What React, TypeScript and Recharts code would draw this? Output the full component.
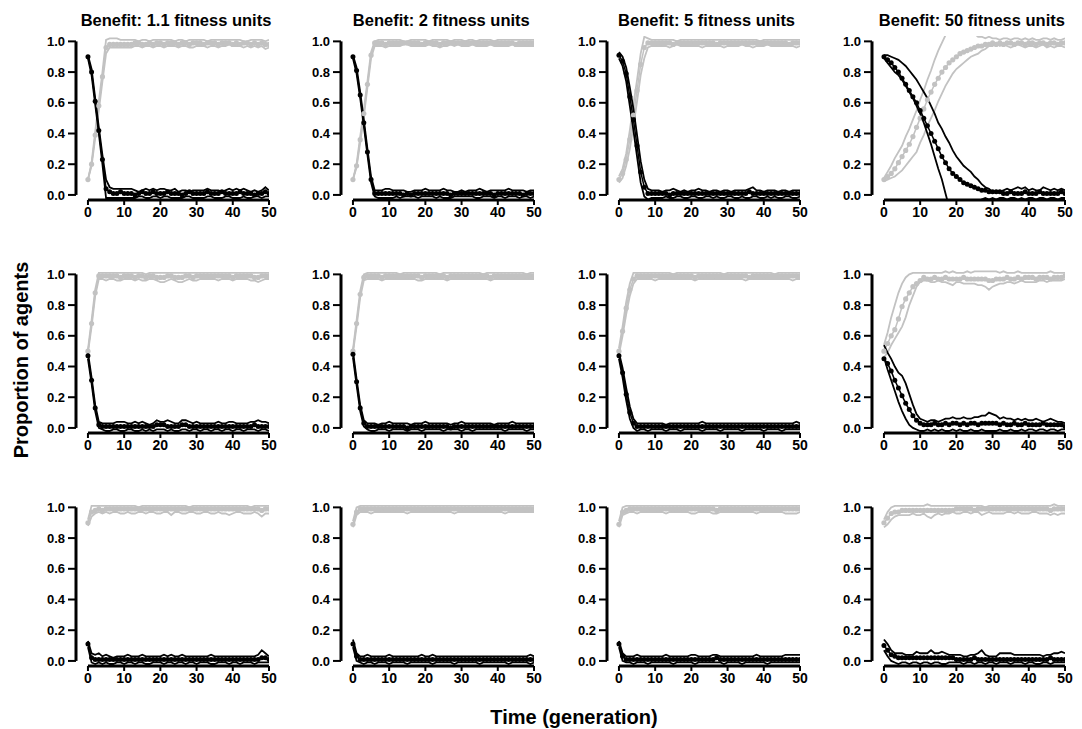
import { LineChart, Line, XAxis, YAxis, ReferenceLine } from 'recharts'

// proportions are in percent (0-100); tick labels show them as 0.0-1.0
const generations = [0, 1, 2, 3, 4, 5, 6, 7, 8, 9, 10, 11, 12, 13, 14, 15, 16, 17, 18, 19, 20, 21, 22, 23, 24, 25, 26, 27, 28, 29, 30, 31, 32, 33, 34, 35, 36, 37, 38, 39, 40, 41, 42, 43, 44, 45, 46, 47, 48, 49, 50]
const xTicks = [0, 10, 20, 30, 40, 50]
const yTicks = [0, 20, 40, 60, 80, 100]
const titles = ['Benefit: 1.1 fitness units', 'Benefit: 2 fitness units', 'Benefit: 5 fitness units', 'Benefit: 50 fitness units']

// row 1: start at 0.9
const r1c1BlackMean = [90, 80, 61, 42, 23, 4, 2, 1, 1, 2, 1, 1, 1, 0, 1, 2, 1, 1, 2, 1, 1, 1, 2, 1, 1, 1, 0, 1, 2, 1, 1, 1, 1, 2, 1, 1, 1, 2, 1, 1, 1, 1, 2, 1, 1, 1, 0, 1, 1, 2, 1]
const r1c1BlackHigh = [91, 82, 63, 44, 26, 10, 5, 4, 4, 4, 4, 4, 4, 3, 2, 3, 4, 3, 4, 3, 4, 4, 3, 3, 4, 2, 3, 3, 2, 3, 3, 3, 3, 4, 3, 3, 3, 2, 3, 4, 3, 4, 3, 4, 3, 2, 3, 2, 3, 5, 3]
const r1c1BlackLow = [89, 78, 59, 40, 20, -2, -2, -2, -2, -2, -2, -2, -2, -2, -1, -1, -2, -2, -1, -1, -2, -1, -1, -2, -2, -2, -2, -1, -1, -2, -2, -2, -2, -1, -1, -2, -2, -2, -1, -1, -2, -2, -2, -1, -2, -2, -1, -1, -2, -1, -1]
const r1c1GreyMean = [10, 20, 39, 58, 77, 96, 98, 98, 98, 98, 98, 98, 98, 99, 99, 98, 98, 99, 98, 99, 99, 98, 99, 99, 99, 98, 99, 99, 98, 99, 99, 99, 98, 99, 99, 99, 98, 99, 99, 99, 98, 99, 98, 99, 99, 98, 99, 98, 99, 98, 98]
const r1c1GreyHigh = [10, 21, 41, 61, 80, 101, 102, 102, 102, 101, 101, 101, 101, 101, 100, 101, 101, 100, 101, 101, 101, 101, 101, 101, 100, 101, 101, 100, 101, 101, 101, 101, 101, 100, 101, 101, 101, 101, 101, 101, 101, 101, 101, 100, 100, 101, 101, 101, 101, 100, 101]
const r1c1GreyLow = [10, 19, 37, 55, 74, 92, 96, 96, 96, 96, 96, 96, 96, 97, 97, 96, 97, 97, 96, 97, 97, 96, 97, 97, 97, 96, 97, 97, 96, 96, 97, 97, 97, 96, 97, 97, 96, 97, 97, 98, 97, 97, 97, 96, 97, 96, 97, 96, 97, 95, 96]

const r1c2BlackMean = [90, 81, 65, 47, 28, 10, 1, 1, 1, 1, 1, 1, 1, 1, 0, 1, 0, 1, 1, 1, 1, 1, 1, 1, 1, 1, 1, 0, 1, 1, 1, 1, 1, 1, 1, 1, 1, 1, 1, 0, 1, 1, 1, 1, 1, 1, 1, 0, 1, 1, 1]
const r1c2BlackHigh = [91, 83, 67, 49, 30, 12, 3, 3, 3, 4, 4, 3, 3, 3, 3, 2, 2, 3, 3, 3, 4, 3, 3, 3, 3, 4, 3, 3, 2, 2, 3, 2, 3, 3, 3, 4, 3, 2, 3, 3, 3, 3, 3, 4, 3, 3, 3, 3, 2, 3, 3]
const r1c2BlackLow = [89, 79, 63, 45, 26, 8, -1, -2, -2, -2, -2, -2, -1, -2, -1, -1, -1, -1, -2, -1, -1, -1, -1, -2, -1, -2, -2, -2, -1, -1, -1, -1, -1, -1, -2, -2, -1, -1, -1, -2, -1, -1, -2, -1, -1, -1, -2, -1, -1, -2, -1]
const r1c2GreyMean = [10, 19, 36, 53, 72, 91, 99, 99, 99, 98, 99, 99, 99, 99, 99, 99, 99, 99, 99, 98, 99, 99, 99, 99, 98, 99, 99, 99, 99, 99, 99, 99, 99, 99, 99, 99, 99, 99, 99, 99, 99, 99, 99, 99, 99, 98, 99, 99, 99, 99, 99]
const r1c2GreyHigh = [10, 20, 38, 55, 74, 93, 100, 101, 101, 101, 101, 101, 101, 101, 100, 100, 101, 101, 101, 101, 101, 100, 101, 101, 101, 101, 101, 100, 101, 101, 101, 100, 101, 101, 100, 101, 101, 101, 101, 100, 101, 101, 101, 101, 101, 101, 101, 101, 101, 101, 101]
const r1c2GreyLow = [10, 18, 34, 51, 70, 89, 97, 97, 97, 96, 97, 97, 97, 97, 98, 98, 97, 97, 97, 97, 97, 98, 97, 97, 96, 97, 97, 98, 97, 98, 97, 97, 97, 98, 97, 97, 97, 97, 98, 97, 97, 97, 97, 97, 98, 97, 97, 97, 97, 97, 97]

const r1c3BlackMean = [91, 87, 79, 64, 49, 32, 15, 5, 1, 1, 1, 1, 1, 1, 0, 1, 1, 1, 1, 1, 1, 1, 1, 1, 1, 1, 1, 1, 1, 1, 1, 1, 1, 1, 1, 1, 2, 1, 1, 1, 1, 1, 1, 1, 1, 1, 1, 1, 1, 1, 1]
const r1c3BlackHigh = [93, 90, 83, 70, 56, 39, 22, 10, 4, 3, 3, 3, 2, 3, 3, 4, 3, 2, 3, 2, 3, 3, 4, 3, 3, 2, 3, 3, 2, 3, 3, 2, 3, 3, 3, 3, 4, 5, 3, 3, 2, 3, 3, 3, 2, 3, 3, 2, 3, 3, 3]
const r1c3BlackLow = [89, 84, 74, 58, 42, 25, 8, -1, -3, -2, -2, -2, -2, -1, -2, -2, -1, -1, -2, -2, -1, -1, -2, -2, -1, -1, -2, -1, -2, -2, -1, -1, -2, -2, -1, -2, -2, -1, -1, -2, -2, -1, -2, -1, -2, -2, -1, -1, -2, -2, -1]
const r1c3GreyMean = [10, 14, 23, 36, 52, 68, 85, 96, 99, 99, 99, 99, 99, 99, 99, 98, 99, 99, 99, 99, 99, 99, 99, 99, 99, 99, 99, 98, 99, 99, 99, 99, 99, 99, 99, 99, 99, 99, 99, 99, 99, 99, 99, 99, 99, 99, 99, 98, 99, 99, 99]
const r1c3GreyHigh = [12, 17, 27, 42, 59, 75, 92, 103, 102, 101, 101, 101, 101, 101, 101, 101, 100, 101, 101, 101, 101, 101, 101, 101, 101, 101, 101, 101, 101, 101, 101, 101, 101, 101, 101, 101, 101, 101, 101, 100, 101, 101, 101, 101, 101, 101, 101, 101, 101, 101, 101]
const r1c3GreyLow = [8, 11, 19, 30, 45, 61, 78, 89, 96, 97, 97, 97, 97, 97, 96, 97, 98, 97, 97, 97, 97, 97, 97, 96, 97, 97, 97, 97, 97, 96, 97, 97, 97, 97, 98, 97, 97, 96, 97, 97, 97, 98, 97, 97, 97, 97, 97, 97, 97, 96, 97]

const r1c4BlackMean = [90, 88, 86, 83, 80, 76, 72, 68, 64, 60, 55, 50, 45, 40, 35, 30, 25, 21, 17, 14, 12, 10, 8, 7, 6, 5, 4, 3, 3, 2, 2, 2, 2, 1, 1, 2, 1, 1, 1, 2, 1, 1, 1, 2, 1, 1, 1, 1, 1, 2, 1]
const r1c4BlackHigh = [91, 91, 90, 89, 88, 86, 84, 81, 78, 75, 71, 67, 63, 58, 53, 47, 43, 38, 34, 29, 25, 22, 19, 17, 15, 12, 10, 7, 5, 4, 2, 2, 2, 3, 4, 3, 4, 5, 4, 5, 3, 4, 3, 3, 5, 4, 3, 4, 3, 4, 3]
const r1c4BlackLow = [89, 86, 83, 80, 78, 75, 71, 67, 63, 58, 53, 47, 40, 33, 25, 17, 10, 1, -8, -14, -18, -20, -20, -18, -15, -12, -8, -3, -2, -3, -2, -3, -2, -2, -3, -2, -2, -3, -2, -3, -2, -2, -3, -2, -2, -3, -2, -2, -3, -2, -2]
const r1c4GreyMean = [10, 12, 14, 17, 21, 25, 29, 33, 38, 44, 50, 56, 62, 67, 72, 76, 80, 83, 86, 88, 90, 92, 93, 94, 95, 96, 97, 97, 98, 98, 99, 98, 99, 98, 99, 99, 98, 99, 99, 98, 99, 99, 98, 99, 99, 98, 99, 99, 98, 99, 99]
const r1c4GreyHigh = [11, 15, 19, 24, 28, 32, 38, 43, 49, 55, 62, 68, 75, 81, 88, 94, 99, 104, 108, 111, 113, 113, 112, 110, 108, 105, 103, 103, 102, 103, 102, 102, 101, 102, 102, 101, 102, 102, 101, 102, 101, 102, 101, 101, 102, 102, 101, 102, 101, 101, 102]
const r1c4GreyLow = [9, 10, 11, 12, 14, 16, 19, 22, 25, 28, 34, 39, 45, 50, 55, 61, 66, 71, 75, 79, 82, 84, 86, 88, 90, 91, 92, 94, 95, 97, 97, 99, 97, 98, 97, 96, 97, 98, 97, 96, 97, 97, 96, 97, 98, 96, 97, 96, 97, 97, 96]

// row 2: start at 0.5
const r2c1BlackMean = [47, 31, 13, 2, 1, 1, 1, 1, 1, 1, 1, 1, 1, 1, 1, 1, 1, 1, 1, 2, 2, 2, 1, 1, 1, 1, 2, 2, 1, 1, 1, 1, 1, 1, 1, 1, 1, 1, 1, 1, 1, 1, 1, 1, 1, 1, 2, 1, 1, 1, 1]
const r2c1BlackHigh = [49, 33, 15, 4, 3, 3, 3, 3, 4, 4, 4, 3, 3, 4, 3, 4, 3, 2, 3, 5, 4, 4, 5, 4, 3, 3, 5, 5, 4, 3, 4, 3, 3, 3, 3, 3, 4, 3, 3, 4, 4, 3, 3, 3, 3, 4, 4, 5, 4, 4, 3]
const r2c1BlackLow = [45, 29, 11, 0, -1, -2, -2, -1, -1, -2, -2, -1, -1, -2, -2, -1, -2, -1, -2, -1, -1, -1, -2, -1, -2, -2, -1, -1, -2, -1, -1, -2, -1, -1, -2, -1, -1, -2, -1, -1, -2, -1, -1, -2, -1, -1, -1, -2, -1, -1, -2]
const r2c1GreyMean = [50, 68, 88, 99, 99, 99, 99, 99, 99, 98, 99, 99, 99, 98, 99, 99, 98, 99, 99, 98, 98, 98, 99, 99, 98, 98, 98, 99, 99, 98, 99, 99, 99, 99, 99, 99, 99, 99, 99, 99, 98, 99, 99, 99, 99, 99, 98, 98, 99, 99, 99]
const r2c1GreyHigh = [51, 70, 90, 101, 101, 101, 101, 101, 101, 101, 101, 101, 101, 101, 101, 101, 100, 101, 101, 101, 101, 101, 101, 101, 101, 101, 101, 101, 101, 101, 101, 101, 101, 101, 101, 101, 101, 101, 101, 101, 101, 101, 101, 101, 101, 101, 101, 101, 101, 101, 101]
const r2c1GreyLow = [49, 66, 86, 97, 97, 96, 97, 97, 96, 96, 97, 97, 97, 96, 97, 96, 96, 97, 97, 96, 95, 95, 96, 97, 96, 95, 95, 96, 97, 96, 96, 97, 97, 97, 97, 97, 96, 97, 97, 97, 96, 97, 97, 97, 97, 96, 96, 95, 96, 97, 97]

const r2c2BlackMean = [48, 30, 13, 3, 1, 1, 1, 1, 1, 1, 1, 1, 1, 1, 1, 0, 1, 1, 1, 1, 1, 1, 1, 1, 1, 1, 1, 0, 1, 1, 1, 1, 1, 1, 1, 1, 1, 1, 1, 1, 1, 1, 1, 1, 1, 1, 1, 1, 1, 1, 1]
const r2c2BlackHigh = [50, 32, 15, 5, 3, 3, 3, 2, 3, 3, 4, 3, 3, 3, 3, 3, 2, 3, 3, 3, 4, 3, 3, 3, 3, 3, 3, 2, 3, 3, 4, 3, 3, 3, 3, 3, 3, 3, 3, 2, 3, 3, 3, 3, 4, 3, 3, 3, 3, 3, 3]
const r2c2BlackLow = [46, 28, 11, 1, -1, -2, -2, -1, -1, -1, -2, -1, -1, -1, -1, -2, -1, -1, -1, -2, -1, -1, -1, -1, -1, -2, -1, -1, -1, -1, -2, -1, -1, -2, -1, -1, -1, -1, -1, -1, -1, -1, -2, -1, -1, -1, -1, -1, -2, -1, -1]
const r2c2GreyMean = [50, 68, 87, 98, 99, 99, 99, 99, 98, 99, 99, 99, 99, 99, 99, 99, 99, 99, 99, 98, 99, 99, 99, 99, 99, 99, 98, 99, 99, 99, 99, 99, 99, 99, 99, 99, 99, 99, 98, 99, 99, 99, 99, 99, 99, 99, 99, 99, 99, 99, 99]
const r2c2GreyHigh = [51, 70, 89, 100, 101, 101, 101, 101, 101, 101, 101, 101, 101, 100, 101, 101, 101, 101, 101, 101, 101, 101, 101, 101, 100, 101, 101, 101, 101, 101, 101, 101, 101, 101, 101, 101, 100, 101, 101, 101, 101, 101, 101, 101, 101, 101, 101, 101, 100, 101, 101]
const r2c2GreyLow = [49, 66, 85, 96, 97, 97, 97, 97, 96, 97, 97, 97, 97, 97, 97, 97, 97, 97, 96, 96, 97, 97, 97, 97, 97, 97, 96, 97, 97, 97, 97, 97, 97, 97, 97, 97, 97, 97, 96, 97, 97, 97, 97, 97, 97, 97, 97, 97, 97, 97, 97]

const r2c3BlackMean = [47, 36, 22, 10, 3, 1, 1, 1, 1, 1, 1, 1, 1, 1, 1, 1, 1, 1, 1, 1, 1, 1, 1, 1, 1, 1, 1, 1, 1, 1, 1, 1, 1, 1, 1, 1, 1, 1, 1, 1, 1, 1, 1, 1, 1, 1, 1, 1, 1, 1, 1]
const r2c3BlackHigh = [49, 39, 26, 14, 6, 3, 3, 3, 3, 3, 3, 3, 3, 2, 3, 3, 3, 3, 3, 3, 3, 3, 3, 4, 3, 3, 3, 3, 3, 3, 3, 3, 3, 3, 3, 3, 3, 3, 3, 3, 3, 3, 3, 3, 3, 3, 3, 3, 3, 4, 3]
const r2c3BlackLow = [45, 33, 18, 6, 0, -2, -1, -1, -2, -1, -1, -1, -1, -2, -1, -1, -1, -2, -1, -1, -1, -1, -1, -2, -1, -1, -1, -1, -2, -1, -1, -1, -1, -1, -2, -1, -1, -1, -1, -1, -2, -1, -1, -1, -1, -2, -1, -1, -1, -1, -1]
const r2c3GreyMean = [50, 63, 78, 90, 97, 99, 99, 99, 99, 99, 99, 99, 99, 99, 99, 99, 99, 99, 99, 99, 99, 98, 99, 99, 99, 99, 99, 99, 99, 99, 99, 99, 99, 99, 99, 99, 98, 99, 99, 99, 99, 99, 99, 99, 99, 99, 99, 99, 99, 99, 99]
const r2c3GreyHigh = [52, 66, 82, 94, 101, 101, 101, 101, 101, 101, 101, 101, 101, 101, 101, 100, 101, 101, 101, 101, 101, 101, 101, 101, 101, 101, 101, 101, 101, 100, 101, 101, 101, 101, 101, 101, 101, 101, 101, 101, 101, 101, 101, 100, 101, 101, 101, 101, 101, 101, 101]
const r2c3GreyLow = [48, 60, 74, 86, 94, 97, 97, 97, 97, 97, 96, 97, 97, 97, 97, 97, 97, 97, 97, 97, 97, 96, 97, 97, 97, 97, 97, 97, 97, 97, 97, 97, 97, 97, 97, 96, 97, 97, 97, 97, 97, 97, 97, 97, 97, 97, 97, 97, 96, 97, 97]

const r2c4BlackMean = [45, 42, 37, 31, 26, 21, 16, 12, 8, 5, 3, 2, 2, 2, 3, 2, 2, 3, 2, 3, 3, 2, 3, 2, 3, 3, 2, 3, 3, 3, 3, 3, 2, 3, 2, 2, 3, 2, 2, 3, 2, 2, 2, 2, 3, 2, 2, 2, 2, 2, 1]
const r2c4BlackHigh = [54, 49, 45, 40, 36, 34, 29, 22, 15, 9, 6, 5, 4, 5, 5, 4, 5, 6, 6, 7, 6, 6, 7, 6, 6, 7, 7, 8, 8, 10, 9, 8, 6, 7, 6, 6, 5, 6, 5, 6, 5, 5, 6, 5, 4, 5, 6, 5, 4, 4, 3]
const r2c4BlackLow = [46, 38, 31, 24, 17, 11, 6, 2, 0, -1, -2, -2, -1, -2, -1, -2, -1, -2, -2, -1, -2, -1, -2, -2, -1, -2, -2, -1, -2, -2, -2, -2, -1, -2, -2, -1, -2, -2, -1, -2, -1, -1, -2, -1, -1, -2, -1, -1, -2, -1, -1]
const r2c4GreyMean = [50, 55, 60, 64, 71, 79, 84, 88, 92, 94, 96, 98, 97, 97, 98, 97, 97, 98, 97, 97, 97, 97, 98, 97, 97, 97, 97, 97, 97, 96, 96, 97, 97, 97, 98, 97, 97, 98, 97, 98, 98, 98, 97, 98, 98, 98, 97, 98, 98, 98, 99]
const r2c4GreyHigh = [54, 62, 72, 80, 88, 94, 98, 100, 101, 101, 101, 101, 101, 101, 101, 101, 101, 102, 101, 102, 101, 101, 101, 102, 101, 102, 102, 102, 102, 102, 102, 102, 101, 102, 101, 101, 101, 102, 101, 101, 101, 101, 101, 101, 101, 101, 102, 101, 101, 101, 101]
const r2c4GreyLow = [46, 49, 54, 58, 62, 66, 72, 80, 86, 92, 95, 96, 96, 95, 95, 96, 95, 95, 94, 93, 95, 95, 94, 94, 94, 94, 93, 93, 92, 90, 92, 93, 94, 94, 95, 95, 94, 95, 96, 95, 95, 95, 95, 96, 96, 95, 96, 96, 96, 96, 97]

// row 3: start at 0.1
const r3c1BlackMean = [11, 2, 1, 1, 1, 1, 1, 1, 1, 1, 1, 1, 1, 1, 1, 1, 1, 1, 1, 1, 1, 1, 1, 1, 1, 1, 1, 1, 1, 1, 1, 1, 1, 1, 1, 1, 1, 1, 1, 1, 1, 1, 1, 1, 1, 1, 1, 1, 2, 2, 1]
const r3c1BlackHigh = [13, 5, 4, 5, 3, 4, 3, 2, 3, 3, 3, 4, 3, 3, 3, 4, 3, 3, 3, 3, 3, 4, 3, 4, 3, 3, 4, 3, 3, 3, 3, 3, 3, 3, 4, 3, 3, 3, 3, 3, 3, 3, 3, 3, 3, 3, 3, 4, 7, 5, 3]
const r3c1BlackLow = [9, -1, -2, -1, -2, -1, -2, -2, -1, -1, -2, -1, -1, -2, -1, -1, -2, -2, -1, -1, -1, -2, -1, -1, -2, -1, -1, -2, -1, -1, -2, -1, -1, -1, -2, -2, -1, -1, -1, -2, -1, -1, -2, -1, -1, -1, -2, -1, -1, -1, -1]
const r3c1GreyMean = [90, 97, 98, 99, 98, 99, 99, 99, 99, 99, 99, 99, 99, 99, 99, 99, 99, 99, 99, 99, 99, 99, 99, 99, 99, 99, 99, 99, 99, 99, 99, 99, 99, 99, 99, 99, 99, 99, 99, 99, 99, 99, 99, 99, 99, 99, 99, 99, 98, 99, 99]
const r3c1GreyHigh = [92, 101, 101, 101, 101, 101, 101, 101, 101, 101, 101, 101, 101, 101, 100, 101, 101, 101, 101, 101, 101, 101, 101, 101, 101, 101, 101, 101, 100, 101, 101, 101, 101, 101, 101, 101, 101, 101, 101, 101, 101, 101, 101, 101, 101, 100, 101, 101, 101, 101, 101]
const r3c1GreyLow = [88, 94, 96, 97, 96, 97, 96, 97, 97, 96, 96, 97, 96, 96, 97, 97, 96, 97, 97, 96, 96, 97, 97, 95, 97, 97, 96, 96, 97, 97, 96, 96, 97, 97, 96, 96, 97, 96, 96, 95, 96, 97, 97, 96, 96, 96, 97, 96, 94, 96, 96]

const r3c2BlackMean = [11, 3, 1, 1, 1, 1, 1, 1, 1, 1, 1, 1, 1, 1, 1, 1, 1, 1, 1, 1, 1, 1, 1, 1, 1, 1, 1, 1, 1, 1, 1, 1, 1, 1, 1, 1, 1, 1, 1, 1, 1, 1, 1, 1, 1, 1, 1, 1, 1, 1, 1]
const r3c2BlackHigh = [14, 5, 3, 3, 4, 3, 3, 3, 3, 3, 4, 3, 3, 3, 3, 3, 3, 3, 3, 4, 3, 3, 4, 3, 3, 3, 3, 3, 3, 3, 3, 3, 3, 3, 3, 3, 3, 3, 3, 3, 3, 3, 3, 3, 3, 3, 3, 3, 3, 4, 3]
const r3c2BlackLow = [9, 0, -1, -2, -1, -1, -2, -1, -1, -1, -2, -1, -1, -1, -1, -2, -1, -1, -1, -1, -1, -1, -2, -1, -1, -1, -1, -1, -2, -1, -1, -1, -1, -1, -1, -2, -1, -1, -1, -1, -1, -1, -1, -2, -1, -1, -1, -1, -1, -2, -1]
const r3c2GreyMean = [89, 97, 99, 99, 99, 99, 99, 99, 99, 99, 99, 99, 99, 99, 99, 99, 99, 99, 99, 99, 99, 99, 99, 99, 99, 99, 99, 99, 99, 99, 99, 99, 99, 99, 99, 99, 99, 99, 99, 99, 99, 99, 99, 99, 99, 99, 99, 99, 99, 99, 99]
const r3c2GreyHigh = [91, 100, 101, 101, 101, 101, 101, 101, 101, 101, 101, 101, 101, 101, 101, 101, 101, 101, 101, 101, 101, 101, 101, 101, 101, 101, 101, 101, 101, 101, 101, 101, 101, 101, 101, 101, 101, 101, 101, 101, 101, 101, 101, 101, 101, 101, 101, 101, 101, 101, 101]
const r3c2GreyLow = [87, 95, 97, 97, 97, 96, 97, 97, 97, 97, 97, 97, 97, 97, 97, 96, 97, 97, 97, 97, 97, 97, 97, 97, 97, 97, 97, 97, 96, 97, 97, 97, 97, 97, 97, 97, 97, 97, 97, 97, 97, 97, 96, 97, 97, 97, 97, 97, 97, 97, 97]

const r3c3BlackMean = [11, 3, 1, 1, 1, 1, 1, 1, 1, 1, 1, 1, 1, 1, 1, 1, 1, 1, 1, 1, 1, 1, 1, 1, 1, 1, 1, 2, 1, 1, 1, 1, 1, 1, 1, 1, 1, 1, 1, 1, 1, 1, 1, 1, 1, 1, 1, 1, 1, 1, 1]
const r3c3BlackHigh = [13, 5, 3, 3, 3, 4, 3, 3, 3, 3, 3, 3, 3, 4, 3, 3, 3, 3, 3, 3, 4, 4, 3, 3, 3, 3, 4, 4, 3, 3, 3, 3, 3, 3, 3, 3, 3, 3, 4, 3, 3, 3, 3, 3, 3, 3, 4, 4, 4, 4, 4]
const r3c3BlackLow = [9, 0, -1, -1, -2, -1, -1, -1, -2, -1, -1, -1, -1, -1, -1, -2, -1, -1, -1, -1, -1, -2, -1, -1, -1, -1, -1, -1, -1, -2, -1, -1, -1, -1, -2, -1, -1, -1, -1, -1, -1, -2, -1, -1, -1, -1, -1, -1, -1, -1, -1]
const r3c3GreyMean = [89, 97, 98, 99, 99, 99, 99, 99, 99, 99, 99, 99, 99, 99, 99, 99, 99, 99, 99, 99, 99, 99, 99, 99, 99, 99, 99, 98, 99, 99, 99, 99, 99, 99, 99, 99, 99, 99, 99, 99, 99, 99, 99, 99, 99, 99, 99, 99, 99, 99, 99]
const r3c3GreyHigh = [91, 100, 101, 101, 101, 101, 101, 101, 101, 101, 101, 101, 101, 101, 101, 101, 101, 101, 101, 101, 101, 101, 101, 101, 101, 101, 101, 101, 101, 101, 101, 101, 101, 101, 101, 101, 101, 101, 101, 101, 101, 101, 101, 101, 101, 101, 101, 101, 101, 101, 101]
const r3c3GreyLow = [87, 95, 96, 97, 97, 96, 97, 97, 97, 97, 97, 97, 97, 96, 97, 97, 97, 97, 97, 97, 96, 96, 97, 97, 97, 97, 96, 96, 97, 97, 97, 97, 97, 97, 97, 97, 97, 97, 96, 97, 97, 97, 97, 97, 97, 97, 96, 96, 96, 96, 97]

const r3c4BlackMean = [10, 7, 4, 3, 2, 2, 2, 2, 2, 2, 2, 2, 2, 2, 2, 2, 2, 2, 2, 2, 1, 1, 1, 1, 1, 2, 1, 1, 1, 1, 1, 1, 1, 1, 1, 1, 1, 1, 1, 1, 1, 1, 1, 1, 1, 1, 2, 1, 1, 1, 1]
const r3c4BlackHigh = [14, 11, 7, 5, 5, 5, 4, 4, 4, 6, 5, 5, 5, 7, 5, 5, 6, 5, 4, 4, 4, 4, 3, 3, 4, 4, 5, 7, 4, 3, 3, 3, 5, 5, 5, 5, 4, 4, 4, 4, 4, 4, 4, 4, 3, 4, 4, 5, 5, 6, 5]
const r3c4BlackLow = [7, 3, 0, -1, -2, -1, -1, -2, -1, -1, -2, -1, -1, -2, -1, -1, -2, -2, -1, -1, -1, -1, -2, -1, -1, -2, -1, -1, -2, -1, -1, -2, -1, -1, -1, -2, -1, -1, -1, -2, -1, -1, -2, -2, -1, -1, -2, -1, -1, -1, -1]
const r3c4GreyMean = [90, 93, 96, 97, 97, 98, 98, 98, 98, 98, 98, 98, 98, 98, 98, 98, 98, 98, 98, 98, 99, 99, 99, 99, 99, 98, 99, 99, 99, 99, 99, 99, 99, 99, 99, 99, 99, 99, 99, 99, 99, 99, 99, 99, 99, 99, 98, 99, 99, 99, 99]
const r3c4GreyHigh = [92, 97, 100, 101, 101, 101, 101, 101, 101, 101, 101, 101, 102, 101, 101, 101, 101, 101, 101, 101, 101, 101, 101, 101, 101, 101, 101, 101, 100, 101, 101, 101, 101, 101, 101, 101, 101, 101, 101, 101, 101, 101, 101, 101, 101, 101, 101, 102, 101, 101, 101]
const r3c4GreyLow = [87, 89, 92, 94, 95, 95, 95, 95, 96, 95, 95, 96, 94, 93, 95, 96, 95, 96, 96, 97, 96, 96, 97, 97, 96, 97, 97, 95, 96, 97, 96, 96, 96, 96, 97, 97, 96, 97, 96, 96, 96, 97, 97, 96, 96, 96, 95, 96, 95, 96, 96]

const panels = [
    { bm: r1c1BlackMean, bh: r1c1BlackHigh, bl: r1c1BlackLow, gm: r1c1GreyMean, gh: r1c1GreyHigh, gl: r1c1GreyLow },
    { bm: r1c2BlackMean, bh: r1c2BlackHigh, bl: r1c2BlackLow, gm: r1c2GreyMean, gh: r1c2GreyHigh, gl: r1c2GreyLow },
    { bm: r1c3BlackMean, bh: r1c3BlackHigh, bl: r1c3BlackLow, gm: r1c3GreyMean, gh: r1c3GreyHigh, gl: r1c3GreyLow },
    { bm: r1c4BlackMean, bh: r1c4BlackHigh, bl: r1c4BlackLow, gm: r1c4GreyMean, gh: r1c4GreyHigh, gl: r1c4GreyLow },
    { bm: r2c1BlackMean, bh: r2c1BlackHigh, bl: r2c1BlackLow, gm: r2c1GreyMean, gh: r2c1GreyHigh, gl: r2c1GreyLow },
    { bm: r2c2BlackMean, bh: r2c2BlackHigh, bl: r2c2BlackLow, gm: r2c2GreyMean, gh: r2c2GreyHigh, gl: r2c2GreyLow },
    { bm: r2c3BlackMean, bh: r2c3BlackHigh, bl: r2c3BlackLow, gm: r2c3GreyMean, gh: r2c3GreyHigh, gl: r2c3GreyLow },
    { bm: r2c4BlackMean, bh: r2c4BlackHigh, bl: r2c4BlackLow, gm: r2c4GreyMean, gh: r2c4GreyHigh, gl: r2c4GreyLow },
    { bm: r3c1BlackMean, bh: r3c1BlackHigh, bl: r3c1BlackLow, gm: r3c1GreyMean, gh: r3c1GreyHigh, gl: r3c1GreyLow },
    { bm: r3c2BlackMean, bh: r3c2BlackHigh, bl: r3c2BlackLow, gm: r3c2GreyMean, gh: r3c2GreyHigh, gl: r3c2GreyLow },
    { bm: r3c3BlackMean, bh: r3c3BlackHigh, bl: r3c3BlackLow, gm: r3c3GreyMean, gh: r3c3GreyHigh, gl: r3c3GreyLow },
    { bm: r3c4BlackMean, bh: r3c4BlackHigh, bl: r3c4BlackLow, gm: r3c4GreyMean, gh: r3c4GreyHigh, gl: r3c4GreyLow },
]

const FONT = '"Liberation Sans", Arial, Helvetica, sans-serif'
const GREY = '#c2c2c2'
const X_MIN = -3.3
const Y_MIN = -3.3
const Y_MAX = 103.5

function Panel({ series }: { series: any }) {
    const rows = generations.map((g, i) => ({
        g,
        bm: series.bm[i], bh: series.bh[i], bl: series.bl[i],
        gm: series.gm[i], gh: series.gh[i], gl: series.gl[i],
    }))

    return (
        <LineChart width={255} height={225} data={rows} margin={{ top: 36, right: 12, bottom: 0, left: 0 }}>
            <XAxis
                dataKey="g"
                type="number"
                domain={[X_MIN, 50]}
                ticks={xTicks}
                interval={0}
                allowDataOverflow
                axisLine={false}
                tickLine={{ stroke: '#000', strokeWidth: 2 }}
                tickSize={5}
                height={25}
                tick={{ fill: '#000', fontSize: 14, fontWeight: 700, fontFamily: FONT }}
            />
            <YAxis
                type="number"
                domain={[Y_MIN, Y_MAX]}
                ticks={yTicks}
                interval={0}
                allowDataOverflow
                axisLine={false}
                tickLine={{ stroke: '#000', strokeWidth: 2 }}
                tickSize={8}
                tickMargin={3}
                width={50}
                tickFormatter={(v: number) => (v / 100).toFixed(1)}
                tick={{ fill: '#000', fontSize: 13, fontWeight: 700, fontFamily: FONT }}
            />
            <ReferenceLine segment={[{ x: X_MIN, y: 0 }, { x: X_MIN, y: 100 }]} stroke="#000" strokeWidth={3} ifOverflow="visible" />
            <ReferenceLine segment={[{ x: 0, y: Y_MIN }, { x: 50, y: Y_MIN }]} stroke="#000" strokeWidth={3} ifOverflow="visible" />

            <Line dataKey="gl" stroke={GREY} strokeWidth={1.8} dot={false} activeDot={false} isAnimationActive={false} />
            <Line dataKey="gh" stroke={GREY} strokeWidth={1.8} dot={false} activeDot={false} isAnimationActive={false} />
            <Line dataKey="gm" stroke={GREY} strokeWidth={1.5} dot={{ r: 2.6, fill: GREY, stroke: 'none' }} activeDot={false} isAnimationActive={false} />

            <Line dataKey="bl" stroke="#000" strokeWidth={1.8} dot={false} activeDot={false} isAnimationActive={false} />
            <Line dataKey="bh" stroke="#000" strokeWidth={1.8} dot={false} activeDot={false} isAnimationActive={false} />
            <Line dataKey="bm" stroke="#000" strokeWidth={1.5} dot={{ r: 2.5, fill: '#000', stroke: 'none' }} activeDot={false} isAnimationActive={false} />
        </LineChart>
    )
}

export default function App() {
    return (
        <div style={{ position: 'absolute', left: 0, top: 0, width: 1082, height: 729, background: '#fff', fontFamily: FONT, color: '#000' }}>
            {titles.map((t, c) => (
                <div key={t} style={{
                    position: 'absolute', left: 176 + 265.3 * c - 140, top: 12, width: 280,
                    textAlign: 'center', fontSize: 16.5, fontWeight: 700, lineHeight: '17px', whiteSpace: 'nowrap'
                }}>{t}</div>
            ))}
            {panels.map((p, i) => {
                const r = Math.floor(i / 4)
                const c = i % 4
                return (
                    <div key={i} style={{ position: 'absolute', left: 26 + 265.3 * c, top: 233 * r }}>
                        <Panel series={p} />
                    </div>
                )
            })}
            <div style={{
                position: 'absolute', left: 21, top: 360, transform: 'translate(-50%, -50%) rotate(-90deg)',
                fontSize: 20, fontWeight: 700, whiteSpace: 'nowrap'
            }}>Proportion of agents</div>
            <div style={{
                position: 'absolute', left: 574, top: 717, transform: 'translate(-50%, -50%)',
                fontSize: 20, fontWeight: 700, whiteSpace: 'nowrap'
            }}>Time (generation)</div>
        </div>
    )
}
